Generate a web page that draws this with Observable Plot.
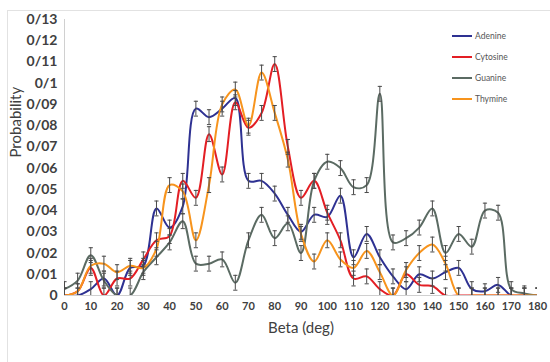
<!DOCTYPE html>
<html><head><meta charset="utf-8">
<script src="https://cdn.jsdelivr.net/npm/d3@7"></script>
<script src="https://cdn.jsdelivr.net/npm/@observablehq/plot@0.6"></script>
<style>
body{margin:0;background:#fff;font-family:Lato,"Open Sans",sans-serif;}
#wrap{position:relative;width:550px;height:362px;overflow:hidden;}
#frame{position:absolute;left:7px;top:10px;width:600px;height:400px;border:1px solid #e2e2e2;}
#chart{position:absolute;left:0;top:0;}
#legend{position:absolute;left:452px;top:25px;font-size:8.5px;color:#555;font-family:Lato,sans-serif;}
.li{display:flex;align-items:center;height:21px;}
.sw{width:20px;height:2px;margin-right:3px;}
</style></head><body>
<div id="wrap"><div id="frame"></div><div id="chart"></div><div id="legend"></div></div>
<script>
const angles = [0,5,10,15,20,25,30,35,40,45,50,55,60,65,70,75,80,85,90,95,100,105,110,115,120,125,130,135,140,145,150,155,160,165,170,175,180];
const seriesNames = ["Adenine","Cytosine","Guanine","Thymine"];
const seriesColors = ["#2e3192","#e31e24","#5b6b63","#f7941d"];
const adenine  = [0,0,0.003,0.008,0,0.013,0.014,0.041,0.032,0.042,0.088,0.084,0.088,0.093,0.054,0.054,0.048,0.038,0.030,0.038,0.037,0.047,0.018,0.029,0.018,0.009,0.003,0.010,0.008,0.011,0.013,0.003,0.002,0.005,0,0,0];
const cytosine = [0,0.002,0.013,0,0.008,0.008,0.017,0.026,0.028,0.054,0.046,0.076,0.057,0.091,0.079,0.086,0.109,0.070,0.046,0.054,0.039,0.026,0.008,0.009,0.003,0,0.010,0.005,0.0045,0,0,0,0,0,0,0,0];
const guanine  = [0.003,0.007,0.019,0.007,0,0,0.011,0.018,0.025,0.035,0.015,0.015,0.017,0.006,0.026,0.038,0.027,0.034,0.020,0.054,0.063,0.060,0.051,0.052,0.095,0.025,0.027,0.032,0.041,0.020,0.029,0.023,0.040,0.039,0.003,0.001,0];
const thymine  = [0,0.002,0.014,0.015,0.011,0.014,0.013,0.022,0.052,0.049,0.026,0.052,0.090,0.097,0.080,0.105,0.086,0.064,0.029,0.016,0.026,0.017,0.013,0.021,0.011,0,0.012,0.020,0.024,0.015,0,0,0,0,0,0,0];
const errHalf = 0.0035;
const xTicks = [0,10,20,30,40,50,60,70,80,90,100,110,120,130,140,150,160,170,180];
const yTicks = [0,0.01,0.02,0.03,0.04,0.05,0.06,0.07,0.08,0.09,0.1,0.11,0.12,0.13];
const yTickLabels = ["0","0/01","0/02","0/03","0/04","0/05","0/06","0/07","0/08","0/09","0/1","0/11","0/12","0/13"];
const xLabel = "Beta (deg)";
const yLabel = "Probability";

const seriesValues = [adenine, cytosine, guanine, thymine];
const data = [];
seriesNames.forEach((s, k) => angles.forEach((a, i) => data.push({series: s, angle: a, value: seriesValues[k][i]})));

const chart = Plot.plot({
  width: 550, height: 362,
  marginLeft: 64, marginRight: 13, marginTop: 19, marginBottom: 67,
  style: {fontFamily: "Lato, sans-serif", color: "#404040", background: "transparent", overflow: "visible"},
  x: {domain: [0, 180]},
  y: {domain: [0, 0.13]},
  color: {domain: seriesNames, range: seriesColors},
  marks: [
    Plot.ruleY([0], {stroke: "#d0d0d0"}),
    Plot.ruleX([0], {stroke: "#d0d0d0"}),
    Plot.axisX({ticks: xTicks, tickSize: 0, tickPadding: 7, fontSize: 11, fontWeight: "bold", label: null}),
    Plot.axisY({ticks: yTicks, tickFormat: (d) => yTickLabels[yTicks.indexOf(d)], tickSize: 0, tickPadding: 7, fontSize: 14, fontWeight: "bold", label: null}),
    Plot.line(data, {x: "angle", y: "value", z: "series", stroke: "series", curve: "catmull-rom", strokeWidth: 2, clip: true}),
    Plot.ruleX(data, {x: "angle", y1: d => d.value - errHalf, y2: d => d.value + errHalf, stroke: "#4a4a4a", strokeWidth: 1, clip: true}),
    Plot.link(data, {x1: d => d.angle - 0.8, x2: d => d.angle + 0.8, y1: d => d.value + errHalf, y2: d => d.value + errHalf, stroke: "#4a4a4a", strokeWidth: 1, clip: true}),
    Plot.link(data, {x1: d => d.angle - 0.8, x2: d => d.angle + 0.8, y1: d => d.value - errHalf, y2: d => d.value - errHalf, stroke: "#4a4a4a", strokeWidth: 1, clip: true}),
    Plot.text([xLabel], {frameAnchor: "bottom", dy: 37, fontSize: 15, fill: "#404040"}),
    Plot.text([yLabel], {frameAnchor: "left", dx: -48, rotate: -90, fontSize: 15, fill: "#404040"})
  ]
});
document.getElementById("chart").appendChild(chart);

const legend = document.getElementById("legend");
seriesNames.forEach((s, k) => {
  const row = document.createElement("div");
  row.className = "li";
  const sw = document.createElement("span");
  sw.className = "sw";
  sw.style.background = seriesColors[k];
  const t = document.createElement("span");
  t.textContent = s;
  row.appendChild(sw); row.appendChild(t);
  legend.appendChild(row);
});
</script>
</body></html>
